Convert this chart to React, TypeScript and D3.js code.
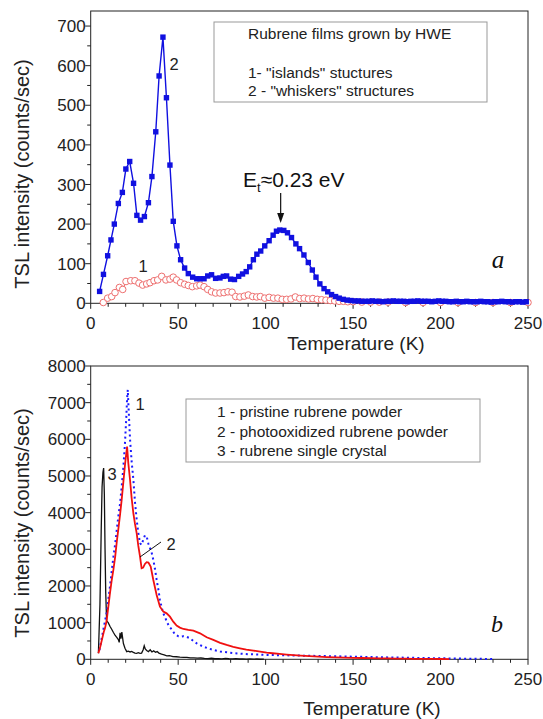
import { useEffect, useRef } from 'react';
import * as d3 from 'd3';

// ---- panel a: films grown by HWE ----
const whiskT = [5.1, 7.3, 9.7, 11.6, 13.5, 15.8, 18.1, 20.1, 22.3, 24.5, 26.4, 28.5, 30.7, 33.0, 35.0, 37.2, 39.1, 41.3, 43.3, 45.3, 47.2, 49.3, 51.4, 53.7, 55.8, 58.3, 60.6, 62.5, 64.8, 66.9, 69.1, 71.4, 73.9, 75.8, 77.7, 80.0, 82.2, 84.6, 86.8, 88.9, 90.9, 93.0, 95.0, 97.2, 99.5, 102.0, 104.3, 106.2, 108.1, 110.4, 112.5, 114.8, 117.3, 119.4, 121.9, 124.4, 126.7, 128.8, 131.0, 133.4, 135.5, 137.7, 140.0, 142.1, 144.4, 146.7, 148.8,
  151, 153, 155, 157, 159, 161, 163, 165, 167, 169, 171, 173, 175, 177, 179, 181, 183, 185, 187, 189, 191, 193, 195, 197, 199, 201, 203, 205, 207, 209, 211, 213, 215, 217, 219, 221, 223, 225, 227, 229, 231, 233, 235, 237, 239, 241, 243, 245, 247, 249];
const whiskV = [30, 73, 120, 160, 200, 252, 280, 339, 358, 303, 222, 210, 219, 254, 320, 433, 574, 672, 519, 349, 207, 145, 110, 89, 75, 66, 62, 62, 62, 69, 72, 63, 64, 68, 69, 61, 60, 68, 74, 80, 92, 110, 124, 132, 145, 158, 172, 182, 185, 184, 178, 166, 150, 138, 122, 103, 84, 66, 49, 37, 29, 22, 17, 13, 10, 8, 7,
  6, 6, 5, 5, 5, 6, 5, 5, 4, 5, 5, 6, 5, 5, 5, 4, 5, 5, 6, 5, 5, 5, 4, 5, 6, 5, 5, 4, 4, 5, 4, 4, 5, 4, 4, 4, 5, 4, 4, 3, 4, 4, 5, 4, 4, 3, 4, 4, 3, 4];

const islandT = [7.2, 9.7, 12.0, 13.9, 16.4, 18.3, 20.2, 22.9, 25.3, 27.6, 29.7, 32.0, 33.9, 36.2, 38.3, 40.6, 43.0, 45.3, 47.2, 49.1, 51.4, 53.7, 55.8, 58.1, 60.6, 62.5, 64.8, 66.9, 69.1, 71.4, 73.9, 76.2, 78.5, 80.8, 82.9, 85.3, 87.8, 90.1, 92.6, 94.9, 97.0, 99.5, 102, 104.5, 107, 109.5, 112, 114.5, 117, 119.5, 122, 124.5, 127, 129.5, 132, 134.5, 137, 139.5, 142, 144.5, 147, 150, 155, 160, 165, 170, 180, 190, 200, 210, 220, 230, 240, 250];
const islandV = [2, 13, 17, 27, 40, 35, 55, 57, 57, 51, 46, 49, 52, 57, 59, 68, 59, 61, 66, 59, 52, 48, 45, 42, 44, 46, 42, 35, 29, 26, 26, 27, 29, 28, 17, 16, 18, 21, 17, 16, 17, 13, 15, 13, 13, 10, 10, 11, 16, 12, 13, 11, 12, 10, 9, 8, 7, 6, 5, 5, 4, 4, 3, 3, 3, 3, 2, 2, 2, 2, 2, 2, 2, 2];

// ---- panel b: powders and crystal ----
const pristineT = [5, 6, 7.2, 8.2, 9.1, 10, 11, 12, 13, 14, 14.9, 15.8, 16.8, 17.7, 18.7, 19.6, 20.3, 20.8, 21.2, 21.6, 22.5, 23.4, 24.4, 25.3, 26.3, 27.2, 28.2, 29.0, 30, 31, 32, 33, 33.9, 34.9, 35.8, 36.8, 37.7, 38.7, 39.6, 40.5, 41.5, 42.5, 43.5, 44.5, 46.3, 48.2, 50.1, 52, 53, 54.9, 56.8, 58.7, 60.6, 62.5, 64.4, 67, 70.1, 74, 77.8, 81.5, 85.4, 90, 96.9, 100, 110, 120, 130, 140, 150, 160, 170, 180, 190, 200, 210, 220, 230];
const pristineV = [250, 500, 800, 1050, 1254, 1600, 1981, 2400, 2800, 3150, 3527, 3900, 4254, 4700, 5254, 5900, 6550, 7100, 7350, 6900, 5990, 5400, 4895, 4300, 3803, 3450, 3167, 3120, 3250, 3380, 3348, 3150, 3030, 2900, 2711, 2450, 2165, 1900, 1619, 1430, 1256, 1150, 1027, 930, 810, 680, 630, 620, 630, 610, 573, 500, 437, 390, 344, 300, 254, 215, 190, 170, 155, 140, 128, 120, 110, 100, 92, 82, 72, 62, 52, 44, 36, 28, 20, 14, 8];

const oxidT = [4.4, 5.5, 6.5, 7.5, 8.2, 9.1, 10, 11, 12, 13, 14, 14.9, 15.8, 16.8, 17.7, 18.7, 19.6, 20.3, 20.8, 21.5, 22.5, 23.4, 24.4, 25.3, 26.3, 27.2, 28.2, 29.1, 30.0, 31.0, 32.0, 33.0, 34.3, 35.8, 37.7, 39.6, 41.5, 43.4, 45.3, 47.2, 49.1, 51, 53, 55.8, 58.7, 62.5, 66.3, 70.1, 74, 77.7, 81.5, 85.3, 89, 93, 96.9, 100.6, 104, 108, 112, 116, 120, 125, 130, 135, 140, 145, 150, 155, 160, 165, 170, 175, 180, 185, 190, 195, 200, 205];
const oxidV = [164, 350, 550, 750, 850, 1050, 1400, 1800, 2150, 2450, 2800, 3200, 3550, 3950, 4350, 4850, 5300, 5600, 5800, 5350, 4890, 4400, 3981, 3700, 3436, 3100, 2800, 2482, 2500, 2600, 2650, 2640, 2527, 2163, 1754, 1436, 1300, 1254, 1163, 1027, 918, 864, 827, 800, 782, 709, 600, 528, 450, 391, 340, 300, 265, 237, 208, 182, 165, 148, 128, 112, 98, 85, 72, 62, 54, 47, 41, 36, 31, 27, 23, 20, 17, 14, 12, 10, 8, 6];

const crystalT = [4.4, 5.3, 6.0, 6.5, 7.0, 7.4, 7.8, 8.2, 8.6, 9.1, 10.0, 11.0, 12.0, 13.0, 14.0, 14.9, 15.8, 16.3, 16.8, 17.3, 17.8, 18.7, 19.6, 20.6, 21.5, 22.5, 23.4, 24.4, 25.3, 26.3, 27.2, 28.2, 29.1, 30.0, 30.6, 31.2, 32.0, 33.0, 34.0, 35.0, 36.0, 37.0, 38.0, 39.0, 40.5, 42, 43.5, 45, 47, 49, 51, 53, 55, 57, 59, 61, 63, 65, 67, 69, 71, 73, 75, 77, 79, 81, 83, 85, 87, 89, 91, 93, 95, 97, 99];
const crystalV = [164, 1500, 3500, 4700, 5100, 5214, 4500, 3000, 1800, 1050, 1000, 900, 820, 730, 650, 600, 540, 460, 720, 560, 740, 430, 300, 209, 220, 200, 215, 190, 170, 164, 180, 160, 170, 260, 370, 280, 240, 210, 260, 200, 230, 190, 210, 170, 140, 120, 95, 100, 75, 70, 60, 55, 55, 40, 38, 30, 35, 25, 20, 28, 15, 20, 12, 25, 15, 10, 18, 8, 12, 5, 10, 3, 8, 2, 5];

const xMajor = [0, 50, 100, 150, 200, 250];
const topMajor = [0, 100, 200, 300, 400, 500, 600, 700];
const botMajor = [0, 1000, 2000, 3000, 4000, 5000, 6000, 7000, 8000];

const legendA = ['Rubrene films grown by HWE', '1- "islands" stuctures', '2 - "whiskers" structures'];
const legendB = ['1 - pristine rubrene powder', '2 - photooxidized rubrene powder', '3 - rubrene single crystal'];

const FONT = "'Liberation Sans', Arial, sans-serif";

export default function App() {
  const svgRef = useRef(null);

  useEffect(() => {
    const svg = d3.select(svgRef.current);
    svg.selectAll('*').remove();

    const x = d3.scaleLinear().domain([0, 250]).range([90.7, 528]);
    const yA = d3.scaleLinear().domain([0, 738]).range([303.3, 11]);
    const yB = d3.scaleLinear().domain([0, 8000]).range([659.3, 366]);

    function frame(y, major, minorStep, yMax, xTitleX, xTitleY, yTitleY) {
      const [y0, y1] = y.range();
      const g = svg.append('g');
      g.append('rect')
        .attr('x', x(0)).attr('y', y1)
        .attr('width', x(250) - x(0)).attr('height', y0 - y1)
        .attr('fill', 'none').attr('stroke', '#222').attr('stroke-width', 1);

      // x ticks: minor every 10 K
      d3.range(0, 251, 10).forEach(t => {
        const isMajor = t % 50 === 0;
        g.append('line')
          .attr('x1', x(t)).attr('x2', x(t))
          .attr('y1', y0).attr('y2', y0 + (isMajor ? 5.5 : 3.5))
          .attr('stroke', '#222');
      });
      g.selectAll('.xl').data(xMajor).enter().append('text')
        .attr('x', d => x(d)).attr('y', y0 + 26)
        .attr('text-anchor', 'middle')
        .style('font-family', FONT).style('font-size', '17px').attr('fill', '#222')
        .text(d => d);

      // y ticks
      d3.range(0, yMax + 1, minorStep).forEach(v => {
        const isMajor = v % (minorStep * 2) === 0;
        g.append('line')
          .attr('x1', x(0)).attr('x2', x(0) - (isMajor ? 5.5 : 3.5))
          .attr('y1', y(v)).attr('y2', y(v))
          .attr('stroke', '#222');
      });
      g.selectAll('.yl').data(major).enter().append('text')
        .attr('x', x(0) - 5).attr('y', d => y(d))
        .attr('dy', '0.36em')
        .attr('text-anchor', 'end')
        .style('font-family', FONT).style('font-size', '17px').attr('fill', '#222')
        .text(d => d);

      g.append('text')
        .attr('x', xTitleX).attr('y', xTitleY)
        .attr('text-anchor', 'middle')
        .style('font-family', FONT).style('font-size', '19px').attr('fill', '#222')
        .text('Temperature (K)');
      g.append('text')
        .attr('transform', `translate(29, ${yTitleY}) rotate(-90)`)
        .attr('text-anchor', 'middle')
        .style('font-family', FONT).style('font-size', '20px').attr('fill', '#222')
        .text('TSL intensity (counts/sec)');
      return g;
    }

    frame(yA, topMajor, 50, 700, 356, 350, 174);
    frame(yB, botMajor, 500, 8000, 372, 715, 523);

    // ---- panel a data ----
    const islandPts = islandT.map((t, i) => [t, islandV[i]]);
    const whiskPts = whiskT.map((t, i) => [t, whiskV[i]]);
    const lineA = d3.line().x(d => x(d[0])).y(d => yA(d[1]));

    svg.append('path').attr('d', lineA(islandPts))
      .attr('fill', 'none').attr('stroke', '#e83030').attr('stroke-width', 0.8);
    svg.selectAll('.isl').data(islandPts).enter().append('circle')
      .attr('cx', d => x(d[0])).attr('cy', d => yA(d[1])).attr('r', 3.3)
      .attr('fill', 'white').attr('stroke', '#ee7070').attr('stroke-width', 1);

    svg.append('path').attr('d', lineA(whiskPts))
      .attr('fill', 'none').attr('stroke', '#1010e0').attr('stroke-width', 1.4);
    svg.selectAll('.wh').data(whiskPts).enter().append('rect')
      .attr('x', d => x(d[0]) - 2.7).attr('y', d => yA(d[1]) - 2.7)
      .attr('width', 5.4).attr('height', 5.4)
      .attr('fill', '#1010e0');

    // legend a
    svg.append('rect').attr('x', 214).attr('y', 22).attr('width', 273).attr('height', 80)
      .attr('fill', 'white').attr('stroke', '#999').attr('stroke-width', 1);
    [39, 78, 96].forEach((yy, i) => {
      svg.append('text').attr('x', 248).attr('y', yy)
        .style('font-family', FONT).style('font-size', '15.5px').attr('fill', '#222')
        .text(legendA[i]);
    });

    // annotations a
    svg.append('text').attr('x', 174).attr('y', 70).attr('text-anchor', 'middle')
      .style('font-family', FONT).style('font-size', '16.5px').attr('fill', '#222').text('2');
    svg.append('text').attr('x', 143).attr('y', 272).attr('text-anchor', 'middle')
      .style('font-family', FONT).style('font-size', '16.5px').attr('fill', '#222').text('1');
    const et = svg.append('text').attr('x', 243).attr('y', 187)
      .style('font-family', FONT).style('font-size', '21px').attr('fill', '#111');
    et.append('tspan').text('E');
    et.append('tspan').attr('dy', 5).style('font-size', '13px').text('t');
    et.append('tspan').attr('dy', -5).text('≈0.23 eV');
    svg.append('line').attr('x1', x(108.6)).attr('x2', x(108.6)).attr('y1', 193).attr('y2', 214)
      .attr('stroke', '#111').attr('stroke-width', 1.2);
    svg.append('path')
      .attr('d', `M${x(108.6) - 3.5},${213} L${x(108.6) + 3.5},${213} L${x(108.6)},${223} Z`)
      .attr('fill', '#111');
    svg.append('text').attr('x', 498).attr('y', 268).attr('text-anchor', 'middle')
      .style('font-family', "'Liberation Serif', 'Times New Roman', serif").style('font-style', 'italic')
      .style('font-size', '25px').attr('fill', '#111').text('a');

    // ---- panel b data ----
    const lineB = d3.line().x(d => x(d[0])).y(d => yB(d[1]));
    svg.append('path').attr('d', lineB(crystalT.map((t, i) => [t, crystalV[i]])))
      .attr('fill', 'none').attr('stroke', '#111').attr('stroke-width', 1.3);
    svg.append('path').attr('d', lineB(pristineT.map((t, i) => [t, pristineV[i]])))
      .attr('fill', 'none').attr('stroke', '#1a1aff').attr('stroke-width', 2)
      .attr('stroke-dasharray', '2,3.2');
    svg.append('path').attr('d', lineB(oxidT.map((t, i) => [t, oxidV[i]])))
      .attr('fill', 'none').attr('stroke', '#f01010').attr('stroke-width', 1.8);

    // legend b
    svg.append('rect').attr('x', 186).attr('y', 399).attr('width', 294).attr('height', 63)
      .attr('fill', 'white').attr('stroke', '#999').attr('stroke-width', 1);
    [417, 437, 456].forEach((yy, i) => {
      svg.append('text').attr('x', 217).attr('y', yy)
        .style('font-family', FONT).style('font-size', '15.5px').attr('fill', '#222')
        .text(legendB[i]);
    });

    // annotations b
    svg.append('text').attr('x', 140).attr('y', 410).attr('text-anchor', 'middle')
      .style('font-family', FONT).style('font-size', '16.5px').attr('fill', '#222').text('1');
    svg.append('text').attr('x', 112).attr('y', 480).attr('text-anchor', 'middle')
      .style('font-family', FONT).style('font-size', '16.5px').attr('fill', '#222').text('3');
    svg.append('text').attr('x', 171).attr('y', 550).attr('text-anchor', 'middle')
      .style('font-family', FONT).style('font-size', '16.5px').attr('fill', '#222').text('2');
    svg.append('line').attr('x1', 140).attr('y1', 557).attr('x2', 161).attr('y2', 542)
      .attr('stroke', '#111').attr('stroke-width', 1);
    svg.append('text').attr('x', 497).attr('y', 632).attr('text-anchor', 'middle')
      .style('font-family', "'Liberation Serif', 'Times New Roman', serif").style('font-style', 'italic')
      .style('font-size', '24px').attr('fill', '#111').text('b');
  }, []);

  return (
    <svg
      ref={svgRef}
      width={543}
      height={719}
      style={{ position: 'absolute', left: 0, top: 0, background: 'white' }}
    />
  );
}
